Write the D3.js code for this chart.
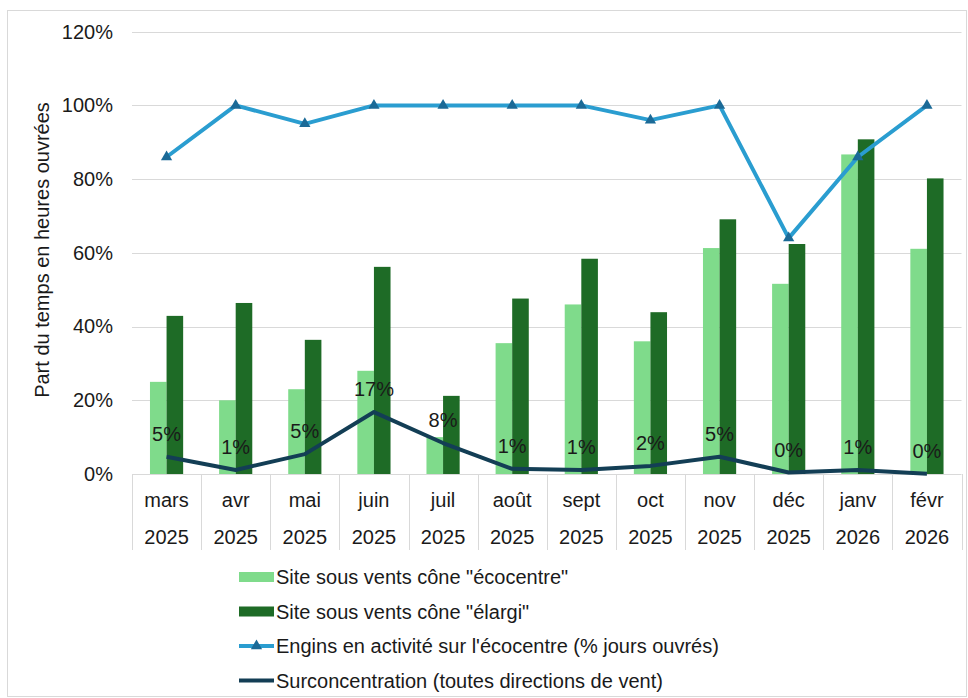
<!DOCTYPE html>
<html><head><meta charset="utf-8">
<script src="https://cdn.jsdelivr.net/npm/d3@7/dist/d3.min.js"></script>
<style>body{margin:0;background:#fff}svg{display:block;font-family:"Liberation Sans",Arial,sans-serif}</style>
</head><body><svg id="c" width="968" height="698"></svg>
<script>
const months = ["mars","avr","mai","juin","juil","août","sept","oct","nov","déc","janv","févr"];
const years = ["2025","2025","2025","2025","2025","2025","2025","2025","2025","2025","2026","2026"];
const ecocentre = [25,20,23,28,10,35.5,46,36,61.3,51.6,86.7,61.1];
const elargi = [42.9,46.4,36.4,56.2,21.2,47.6,58.4,43.9,69.1,62.4,90.8,80.2];
const engins = [86,100,95,100,100,100,100,96,100,64,86,100];
const surconc = [4.7,1.1,5.4,16.8,8.4,1.4,1.1,2.2,4.7,0.4,1.1,0.1];
const yTicks = [0,20,40,60,80,100,120];
const seriesNames = ['Site sous vents cône "écocentre"','Site sous vents cône "élargi"',"Engins en activité sur l'écocentre (% jours ouvrés)","Surconcentration (toutes directions de vent)"];
const colors = {light:"#7fdb8b", dark:"#1e6b26", blue:"#2a9dd0", marker:"#1b6a97", navy:"#133e55", grid:"#d9d9d9"};

const svg = d3.select("#c");
const FS = 20;
svg.append("rect").attr("x",7.5).attr("y",10.5).attr("width",959).attr("height",686).attr("fill","#fff").attr("stroke","#d9d9d9");

const x = d3.scaleBand().domain(d3.range(months.length)).range([132,961.5]);
const y = d3.scaleLinear().domain([0,120]).range([474,31.7]);
const bw = x.bandwidth()*0.24;

// gridlines
svg.append("g").selectAll("line").data(yTicks).join("line")
  .attr("x1",132).attr("x2",961.5).attr("y1",d=>Math.round(y(d))+0.5).attr("y2",d=>Math.round(y(d))+0.5)
  .attr("stroke",colors.grid).attr("stroke-width",1);

// y labels
const yAxis = d3.axisLeft(y).tickValues(yTicks).tickFormat(d=>d+"%").tickSize(0).tickPadding(0);
const ya = svg.append("g").attr("transform","translate(113,0)").call(yAxis);
ya.select(".domain").remove();
ya.selectAll("text").attr("font-size",FS).attr("fill","#1a1a1a").attr("font-family","Liberation Sans, Arial, sans-serif");

// y title
svg.append("text").attr("transform","translate(49,250) rotate(-90)").attr("text-anchor","middle")
  .attr("font-size",FS).attr("fill","#1a1a1a").text("Part du temps en heures ouvrées");

// bars
const cx = i => x(i)+x.bandwidth()/2;
svg.append("g").selectAll("rect").data(ecocentre).join("rect")
  .attr("x",(d,i)=>cx(i)-bw).attr("width",bw).attr("y",d=>y(d)).attr("height",d=>y(0)-y(d)).attr("fill",colors.light);
svg.append("g").selectAll("rect").data(elargi).join("rect")
  .attr("x",(d,i)=>cx(i)).attr("width",bw).attr("y",d=>y(d)).attr("height",d=>y(0)-y(d)).attr("fill",colors.dark);

// category axis table
const tbl = svg.append("g");
const bounds = d3.range(months.length+1).map(i=> i<months.length ? x(i) : x(months.length-1)+x.bandwidth());
tbl.selectAll("line").data(bounds).join("line")
  .attr("x1",d=>Math.round(d)+0.5).attr("x2",d=>Math.round(d)+0.5).attr("y1",474).attr("y2",550)
  .attr("stroke",colors.grid);
tbl.selectAll("text.m").data(months).join("text").attr("class","m")
  .attr("x",(d,i)=>cx(i)).attr("y",507).attr("text-anchor","middle").attr("font-size",FS).attr("fill","#1a1a1a").text(d=>d);
tbl.selectAll("text.yr").data(years).join("text").attr("class","yr")
  .attr("x",(d,i)=>cx(i)).attr("y",544).attr("text-anchor","middle").attr("font-size",FS).attr("fill","#1a1a1a").text(d=>d);

// lines
const line = d3.line().x((d,i)=>cx(i)).y(d=>y(d));
svg.append("path").datum(surconc).attr("d",line).attr("fill","none").attr("stroke",colors.navy).attr("stroke-width",4).attr("stroke-linejoin","round");
svg.append("path").datum(engins).attr("d",line).attr("fill","none").attr("stroke",colors.blue).attr("stroke-width",4).attr("stroke-linejoin","round");
const tri = d3.symbol().type(d3.symbolTriangle).size(55);
svg.append("g").selectAll("path").data(engins).join("path")
  .attr("transform",(d,i)=>`translate(${cx(i)},${y(d)})`).attr("d",tri).attr("fill",colors.marker);

// data labels
svg.append("g").selectAll("text").data(surconc).join("text")
  .attr("x",(d,i)=>cx(i)).attr("y",d=>y(d)-16).attr("text-anchor","middle").attr("font-size",FS).attr("fill","#1a1a1a")
  .text(d=>Math.round(d)+"%");

// legend
const lg = svg.append("g");
const ly = [577,611.5,646,680.5];
seriesNames.forEach((n,i)=>{
  const g = lg.append("g").attr("transform",`translate(0,${ly[i]})`);
  if(i<2){
    g.append("rect").attr("x",239).attr("y",-5).attr("width",35).attr("height",10).attr("fill",i===0?colors.light:colors.dark);
  } else {
    g.append("line").attr("x1",239).attr("x2",274).attr("y1",0).attr("y2",0).attr("stroke",i===2?colors.blue:colors.navy).attr("stroke-width",4);
    if(i===2) g.append("path").attr("transform","translate(256.5,0)").attr("d",tri).attr("fill",colors.marker);
  }
  g.append("text").attr("x",276).attr("y",7).attr("font-size",FS).attr("fill","#1a1a1a").text(n);
});
</script></body></html>
